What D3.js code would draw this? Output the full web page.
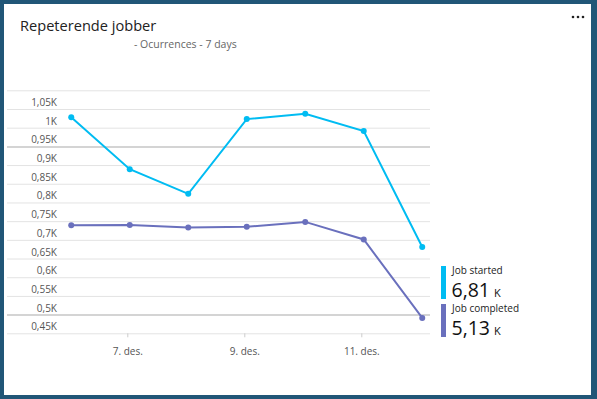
<!DOCTYPE html>
<html>
<head>
<meta charset="utf-8">
<script src="https://cdn.jsdelivr.net/npm/d3@7"></script>
<style>
  html, body { margin: 0; padding: 0; background: #215677; }
  svg { display: block; font-family: "Segoe UI", "Open Sans", sans-serif; }
</style>
</head>
<body>
<svg id="chart" width="597" height="399"></svg>
<script>
// data
var days = [6, 7, 8, 9, 10, 11, 12];
var jobStarted = [1028, 889, 823, 1023, 1037, 991, 681];
var jobCompleted = [739, 740, 733, 735, 748, 701, 491];
var yTicks = [450, 500, 550, 600, 650, 700, 750, 800, 850, 900, 950, 1000, 1050, 1100];
var xTicks = [7, 9, 11];
var legendNames = ["Job started", "Job completed"];
var legendTotals = ["6,81", "5,13"];
var colors = ["#00bcf2", "#6a70bd"];

var svg = d3.select("#chart");

// card
svg.append("rect").attr("x", 4).attr("y", 4).attr("width", 587).attr("height", 391).attr("fill", "#ffffff");

svg.append("text").attr("x", 20).attr("y", 31)
    .attr("font-size", 14.6).attr("fill", "#222").text("Repeterende jobber");
svg.append("text").attr("x", 134).attr("y", 48)
    .attr("font-size", 10.5).attr("fill", "#666").text("- Ocurrences - 7 days");

// "..." menu
svg.selectAll("circle.dot").data([0, 1, 2]).enter().append("circle")
    .attr("class", "dot").attr("cx", function(d) { return 573 + d * 5; }).attr("cy", 17)
    .attr("r", 1.3).attr("fill", "#222");

var dayDate = function(d, h) { return new Date(2020, 11, d, h || 0); };

var x = d3.scaleTime().domain([dayDate(6), dayDate(12)]).range([68.8, 419.8]);
var y = d3.scaleLinear().domain([450, 1100]).range([333.3, 90.3]);

var loc = d3.formatLocale({ decimal: ",", thousands: " ", grouping: [3], currency: ["", ""] });
var fmtK = loc.format(".2~f");

// gridlines + y labels
var yAxis = svg.append("g").attr("transform", "translate(7,0)")
    .call(d3.axisRight(y).tickValues(yTicks).tickSize(423)
        .tickFormat(function(d) { return d === 1100 ? "" : fmtK(d / 1000) + "K"; }));
yAxis.select(".domain").remove();
yAxis.selectAll(".tick line").attr("stroke", function(d) { return (d === 950 || d === 500) ? "#d4d4d4" : "#e3e3e3"; })
    .attr("stroke-width", function(d) { return (d === 950 || d === 500) ? 2 : 1; });
yAxis.selectAll(".tick text").attr("x", 50).attr("dy", -3.5).attr("text-anchor", "end")
    .attr("font-size", 10).attr("font-family", "'Segoe UI', 'Open Sans', sans-serif").attr("fill", "#555");

// x axis ticks
var xAxis = svg.append("g").attr("transform", "translate(0,333.3)")
    .call(d3.axisBottom(x).tickValues(xTicks.map(function(d) { return dayDate(d); })).tickSize(4).tickPadding(11)
        .tickFormat(function(d) { return d.getDate() + ". des."; }));
xAxis.select(".domain").remove();
xAxis.selectAll(".tick line").attr("stroke", "#ccc");
xAxis.selectAll(".tick text").attr("font-size", 10).attr("font-family", "'Segoe UI', 'Open Sans', sans-serif").attr("fill", "#555");

// lines
var series = [jobStarted, jobCompleted];
var line = d3.line()
    .x(function(d, i) { return x(dayDate(days[i], 1)); })
    .y(function(d) { return y(d); });

series.forEach(function(s, k) {
    svg.append("path").datum(s).attr("d", line)
        .attr("fill", "none").attr("stroke", colors[k]).attr("stroke-width", 2);
    svg.selectAll("circle.p" + k).data(s).enter().append("circle")
        .attr("class", "p" + k)
        .attr("cx", function(d, i) { return x(dayDate(days[i], 1)); })
        .attr("cy", function(d) { return y(d); })
        .attr("r", 3).attr("fill", colors[k]);
});

// legend
legendNames.forEach(function(name, k) {
    var top = 266 + k * 38;
    svg.append("rect").attr("x", 441).attr("y", top).attr("width", 5).attr("height", 33).attr("fill", colors[k]);
    svg.append("text").attr("x", 452).attr("y", top + 8)
        .attr("font-size", 10).attr("fill", "#222").text(name);
    var t = svg.append("text").attr("x", 451.5).attr("y", top + 31).attr("fill", "#111");
    t.append("tspan").attr("font-size", 19.5).text(legendTotals[k]);
    t.append("tspan").attr("font-size", 11).attr("dx", 4).text("K");
});
</script>
</body>
</html>
